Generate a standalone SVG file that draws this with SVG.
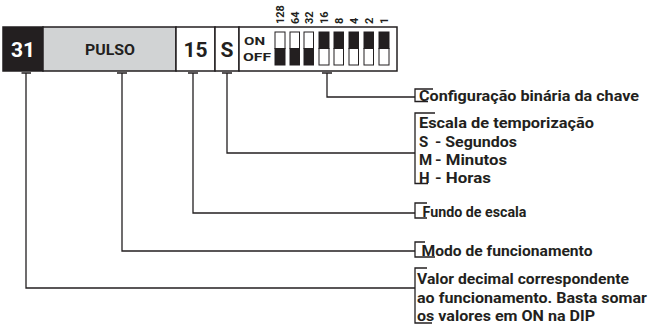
<svg xmlns="http://www.w3.org/2000/svg" width="649" height="324" viewBox="0 0 649 324">
<style>
  text { font-family: Roboto, "Liberation Sans", Arial, sans-serif; font-weight: bold; fill: #231f20; }
  .box { stroke: #231f20; stroke-width: 1.5; }
  .big { font-size: 21px; text-anchor: middle; }
  .num { font-size: 11px; }
  .lbl { font-size: 15px; }
  .ln { fill: none; stroke: #231f20; stroke-width: 1.3; }
  .sw { stroke: #231f20; stroke-width: 1; }
</style>
<rect width="649" height="324" fill="#ffffff"/>
<g id="bar">
  <g id="n31">
    <rect class="box" x="3" y="27" width="40" height="44" fill="#231f20"/>
    <text class="big" x="23" y="57" style="fill:#ffffff">31</text>
  </g>
  <g id="pulso">
    <rect class="box" x="43" y="27" width="133" height="44" fill="#d1d3d4"/>
    <text x="85" y="55" style="font-size:15px" textLength="50" lengthAdjust="spacingAndGlyphs">PULSO</text>
  </g>
  <g id="n15">
    <rect class="box" x="176" y="27" width="39" height="44" fill="#ffffff"/>
    <text class="big" x="195.5" y="57">15</text>
  </g>
  <g id="nS">
    <rect class="box" x="215" y="27" width="24" height="44" fill="#ffffff"/>
    <text class="big" x="227" y="57">S</text>
  </g>
  <g id="dip">
    <rect class="box" x="239" y="27" width="158" height="44" fill="#ffffff"/>
    <text x="244" y="44.7" style="font-size:11.5px" textLength="21" lengthAdjust="spacingAndGlyphs">ON</text>
    <text x="243" y="60.7" style="font-size:11.5px" textLength="28" lengthAdjust="spacingAndGlyphs">OFF</text>
    <rect class="sw" x="275" y="32" width="10" height="16.5" fill="#ffffff"/>
    <rect class="sw" x="275" y="48.5" width="10" height="16.5" fill="#231f20"/>
    <rect class="sw" x="290" y="32" width="9.5" height="16.5" fill="#ffffff"/>
    <rect class="sw" x="290" y="48.5" width="9.5" height="16.5" fill="#231f20"/>
    <rect class="sw" x="304" y="32" width="9.5" height="16.5" fill="#ffffff"/>
    <rect class="sw" x="304" y="48.5" width="9.5" height="16.5" fill="#231f20"/>
    <rect class="sw" x="319" y="32" width="10" height="16.5" fill="#231f20"/>
    <rect class="sw" x="319" y="48.5" width="10" height="16.5" fill="#ffffff"/>
    <rect class="sw" x="334" y="32" width="9.5" height="16.5" fill="#231f20"/>
    <rect class="sw" x="334" y="48.5" width="9.5" height="16.5" fill="#ffffff"/>
    <rect class="sw" x="349" y="32" width="9.5" height="16.5" fill="#231f20"/>
    <rect class="sw" x="349" y="48.5" width="9.5" height="16.5" fill="#ffffff"/>
    <rect class="sw" x="364" y="32" width="9.5" height="16.5" fill="#231f20"/>
    <rect class="sw" x="364" y="48.5" width="9.5" height="16.5" fill="#ffffff"/>
    <rect class="sw" x="379" y="32" width="10" height="16.5" fill="#231f20"/>
    <rect class="sw" x="379" y="48.5" width="10" height="16.5" fill="#ffffff"/>
    <text class="num" transform="translate(284,24) rotate(-90)">128</text>
    <text class="num" transform="translate(298.5,24) rotate(-90)">64</text>
    <text class="num" transform="translate(313,24) rotate(-90)">32</text>
    <text class="num" transform="translate(328,24) rotate(-90)">16</text>
    <text class="num" transform="translate(342.5,24) rotate(-90)">8</text>
    <text class="num" transform="translate(357.5,24) rotate(-90)">4</text>
    <text class="num" transform="translate(372.5,24) rotate(-90)">2</text>
    <text class="num" transform="translate(388,24) rotate(-90)">1</text>
  </g>
</g>
<g id="connectors">
  <path class="ln" d="M21.5,73 H31 M26,73 V288 H415"/>
  <path class="ln" d="M117,73 H127 M122,73 V251 H415"/>
  <path class="ln" d="M188,73 H198 M193,73 V213 H415"/>
  <path class="ln" d="M222,73 H232 M227,73 V153 H415"/>
  <path class="ln" d="M322,73 H332 M327,73 V97 H415"/>
</g>
<g id="lbl-config">
  <path class="ln" d="M433,89 H415 V101.5 H428"/>
  <text class="lbl" x="419" y="100.5" textLength="220" lengthAdjust="spacingAndGlyphs">Configuração binária da chave</text>
</g>
<g id="lbl-escala">
  <path class="ln" d="M435,113 H415 V183.5 H428"/>
  <text class="lbl" x="419" y="128" textLength="175" lengthAdjust="spacingAndGlyphs">Escala de temporização</text>
  <text class="lbl" x="419" y="146.5">S</text>
  <text class="lbl" x="435" y="146.5" textLength="82" lengthAdjust="spacingAndGlyphs">- Segundos</text>
  <text class="lbl" x="419" y="165">M</text>
  <text class="lbl" x="435" y="165" textLength="72" lengthAdjust="spacingAndGlyphs">- Minutos</text>
  <text class="lbl" x="419" y="183">H</text>
  <text class="lbl" x="435" y="183" textLength="56" lengthAdjust="spacingAndGlyphs">- Horas</text>
</g>
<g id="lbl-fundo">
  <path class="ln" d="M427,203 H415 V218 H427"/>
  <text class="lbl" x="422.5" y="217" textLength="104" lengthAdjust="spacingAndGlyphs">Fundo de escala</text>
</g>
<g id="lbl-modo">
  <path class="ln" d="M425,242 H415 V257 H435"/>
  <text class="lbl" x="421.5" y="255.5" textLength="171" lengthAdjust="spacingAndGlyphs">Modo de funcionamento</text>
</g>
<g id="lbl-valor">
  <path class="ln" d="M427,268 H415 V323 H432"/>
  <text class="lbl" x="417" y="284" textLength="212" lengthAdjust="spacingAndGlyphs">Valor decimal correspondente</text>
  <text class="lbl" x="417" y="302.5" textLength="230" lengthAdjust="spacingAndGlyphs">ao funcionamento. Basta somar</text>
  <text class="lbl" x="417" y="321" textLength="178" lengthAdjust="spacingAndGlyphs">os valores em ON na DIP</text>
</g>
</svg>
